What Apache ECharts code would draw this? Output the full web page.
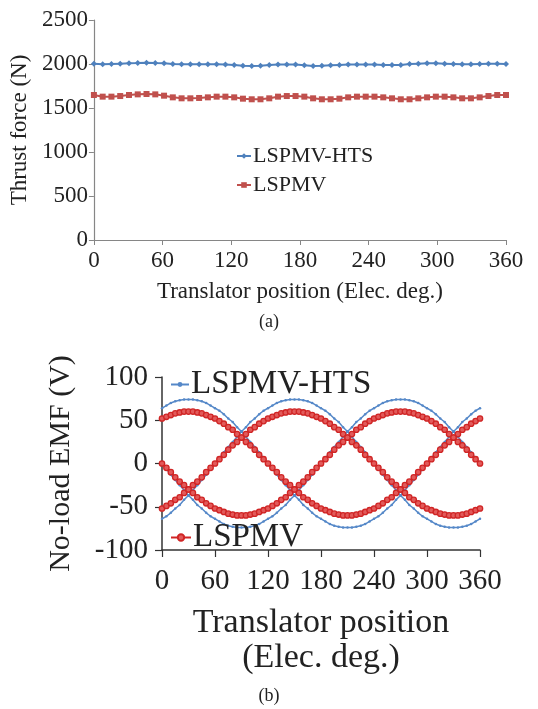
<!DOCTYPE html>
<html><head><meta charset="utf-8">
<script src="https://cdn.jsdelivr.net/npm/echarts@6/dist/echarts.min.js"></script>
<style>html,body{margin:0;padding:0;background:#fff}#c{width:538px;height:709px}</style>
</head><body><div id="c"></div>
<script>
const FONT = 'Liberation Serif';

// ---------- (a) Thrust force ----------
const thrustPos = [0,7.66,15.32,22.98,30.64,38.3,45.96,53.62,61.28,68.94,76.6,84.26,91.91,99.57,107.23,114.89,122.55,130.21,137.87,145.53,153.19,160.85,168.51,176.17,183.83,191.49,199.15,206.81,214.47,222.13,229.79,237.45,245.11,252.77,260.43,268.09,275.74,283.4,291.06,298.72,306.38,314.04,321.7,329.36,337.02,344.68,352.34,360];
const thrustHTS = [2004,1996,2000,2004,2008,2011,2015,2011,2008,2000,1996,1996,1996,1996,1996,1993,1989,1981,1978,1981,1989,1993,1993,1993,1985,1978,1981,1985,1989,1993,1993,1993,1993,1989,1989,1989,2000,2004,2008,2008,2004,2000,1996,1996,2000,2004,2004,2000];
const thrustLSPMV = [1648,1629,1629,1636,1648,1655,1659,1655,1640,1621,1610,1610,1614,1621,1629,1629,1621,1606,1599,1599,1610,1629,1636,1636,1629,1610,1599,1599,1606,1621,1629,1629,1629,1621,1610,1599,1599,1610,1621,1629,1629,1621,1610,1610,1621,1636,1648,1648];

// ---------- (b) No-load EMF ----------
const emfPos = [0,5,10,15,20,25,30,35,40,45,50,55,60,65,70,75,80,85,90,95,100,105,110,115,120,125,130,135,140,145,150,155,160,165,170,175,180,185,190,195,200,205,210,215,220,225,230,235,240,245,250,255,260,265,270,275,280,285,290,295,300,305,310,315,320,325,330,335,340,345,350,355,360];
const htsA = [64,67,70,72,73,74,74,74,73,72,70,67,64,61,57,52,48,42,37,31,25,19,13,6,0,-6,-13,-19,-25,-31,-37,-42,-48,-52,-57,-61,-64,-67,-70,-72,-73,-74,-74,-74,-73,-72,-70,-67,-64,-61,-57,-52,-48,-42,-37,-31,-25,-19,-13,-6,0,6,13,19,25,31,37,42,48,52,57,61,64];
const htsB = [-64,-61,-57,-52,-48,-42,-37,-31,-25,-19,-13,-6,0,6,13,19,25,31,37,42,48,52,57,61,64,67,70,72,73,74,74,74,73,72,70,67,64,61,57,52,48,42,37,31,25,19,13,6,0,-6,-13,-19,-25,-31,-37,-42,-48,-52,-57,-61,-64,-67,-70,-72,-73,-74,-74,-74,-73,-72,-70,-67,-64];
const htsC = [0,-6,-13,-19,-25,-31,-37,-42,-48,-52,-57,-61,-64,-67,-70,-72,-73,-74,-74,-74,-73,-72,-70,-67,-64,-61,-57,-52,-48,-42,-37,-31,-25,-19,-13,-6,0,6,13,19,25,31,37,42,48,52,57,61,64,67,70,72,73,74,74,74,73,72,70,67,64,61,57,52,48,42,37,31,25,19,13,6,0];
const lspA = [52,54,56,58,59,60,60,60,59,58,56,54,52,49,46,42,39,34,30,25,21,16,10,5,0,-5,-10,-16,-21,-25,-30,-34,-39,-42,-46,-49,-52,-54,-56,-58,-59,-60,-60,-60,-59,-58,-56,-54,-52,-49,-46,-42,-39,-34,-30,-25,-21,-16,-10,-5,0,5,10,16,21,25,30,34,39,42,46,49,52];
const lspB = [-52,-49,-46,-42,-39,-34,-30,-25,-21,-16,-10,-5,0,5,10,16,21,25,30,34,39,42,46,49,52,54,56,58,59,60,60,60,59,58,56,54,52,49,46,42,39,34,30,25,21,16,10,5,0,-5,-10,-16,-21,-25,-30,-34,-39,-42,-46,-49,-52,-54,-56,-58,-59,-60,-60,-60,-59,-58,-56,-54,-52];
const lspC = [0,-5,-10,-16,-21,-25,-30,-34,-39,-42,-46,-49,-52,-54,-56,-58,-59,-60,-60,-60,-59,-58,-56,-54,-52,-49,-46,-42,-39,-34,-30,-25,-21,-16,-10,-5,0,5,10,16,21,25,30,34,39,42,46,49,52,54,56,58,59,60,60,60,59,58,56,54,52,49,46,42,39,34,30,25,21,16,10,5,0];

const seriesNames = ['LSPMV-HTS', 'LSPMV'];
const titleA = { x: 'Translator position (Elec. deg.)', y: 'Thrust force (N)', caption: '(a)' };
const titleB = { x: 'Translator position\n(Elec. deg.)', y: 'No-load EMF (V)', caption: '(b)' };

const pair = (xs, ys) => xs.map((x, i) => [x, ys[i]]);
const plain = v => String(v);

const BLUE_A = '#4F81BD', RED_A = '#C0504D';
const BLUE_B = '#5588c8', RED_B = '#d02525';
const TXT = '#222';

const chart = echarts.init(document.getElementById('c'), null, { renderer: 'canvas' });

function emfSeries(name, vals, isHts) {
  return {
    name, type: 'line', xAxisIndex: 1, yAxisIndex: 1,
    data: pair(emfPos, vals),
    symbol: 'circle',
    symbolSize: isHts ? 2.5 : 5.4,
    showSymbol: true,
    lineStyle: { color: isHts ? BLUE_B : RED_B, width: isHts ? 1.5 : 2 },
    itemStyle: isHts ? { color: BLUE_B } : { color: '#e25a5a', borderColor: RED_B, borderWidth: 1.3 },
    z: isHts ? 2 : 3,
    animation: false
  };
}

chart.setOption({
  backgroundColor: '#fff',
  animation: false,
  textStyle: { fontFamily: FONT, color: TXT },
  grid: [
    { left: 92, top: 20, width: 414, height: 220 },
    { left: 162, top: 377, width: 318, height: 173 }
  ],
  xAxis: [
    {
      gridIndex: 0, type: 'value', min: 0, max: 360, interval: 60,
      name: titleA.x, nameLocation: 'middle', nameGap: 40,
      nameTextStyle: { fontFamily: FONT, fontSize: 23, color: TXT },
      axisLine: { show: true, onZero: false, lineStyle: { color: '#868686', width: 1.2 } },
      axisTick: { show: true, length: 5, lineStyle: { color: '#868686' } },
      axisLabel: { fontFamily: FONT, fontSize: 23, color: TXT, margin: 9, formatter: plain },
      splitLine: { show: false }
    },
    {
      gridIndex: 1, type: 'value', min: 0, max: 360, interval: 60,
      name: titleB.x, nameLocation: 'middle', nameGap: 56,
      nameTextStyle: { fontFamily: FONT, fontSize: 34, color: TXT, lineHeight: 35 },
      axisLine: { show: true, onZero: false, lineStyle: { color: '#333', width: 1.5 } },
      axisTick: { show: true, length: 7, lineStyle: { color: '#333', width: 1.2 } },
      axisLabel: { fontFamily: FONT, fontSize: 29, color: TXT, margin: 17, formatter: plain },
      splitLine: { show: false }
    }
  ],
  yAxis: [
    {
      gridIndex: 0, type: 'value', min: 0, max: 2500, interval: 500,
      name: titleA.y, nameLocation: 'middle', nameGap: 56,
      nameTextStyle: { fontFamily: FONT, fontSize: 23, color: TXT },
      axisLine: { show: true, onZero: false, lineStyle: { color: '#868686', width: 1.2 } },
      axisTick: { show: true, length: 5, lineStyle: { color: '#868686' } },
      axisLabel: { fontFamily: FONT, fontSize: 23, color: TXT, margin: 6, formatter: plain },
      splitLine: { show: false }
    },
    {
      gridIndex: 1, type: 'value', min: -100, max: 100, interval: 50,
      name: titleB.y, nameLocation: 'middle', nameGap: 86,
      nameTextStyle: { fontFamily: FONT, fontSize: 30, color: TXT },
      axisLine: { show: true, onZero: false, lineStyle: { color: '#333', width: 1.5 } },
      axisTick: { show: true, length: 7, lineStyle: { color: '#333', width: 1.2 } },
      axisLabel: { fontFamily: FONT, fontSize: 29, color: TXT, margin: 14, formatter: plain },
      splitLine: { show: false }
    }
  ],
  legend: [
    {
      data: seriesNames, orient: 'vertical', left: 236, top: 145, itemGap: 7,
      itemWidth: 14, itemHeight: 7, padding: 0,
      textStyle: { fontFamily: FONT, fontSize: 22, color: TXT, padding: [0, 0, 0, -3] }
    },
    {
      data: [seriesNames[0] + '\u200b'], left: 170, top: 368, padding: 0,
      itemWidth: 18, itemHeight: 6,
      textStyle: { fontFamily: FONT, fontSize: 33, color: TXT, padding: [0, 0, 0, -3] }
    },
    {
      data: [seriesNames[1] + ' '], left: 170, top: 521, padding: 0,
      itemWidth: 20, itemHeight: 8,
      textStyle: { fontFamily: FONT, fontSize: 33, color: TXT, padding: [0, 0, 0, -3] }
    }
  ],
  graphic: [
    { type: 'text', left: 'center', top: 313, style: { text: titleA.caption, font: '18px "Liberation Serif"', fill: TXT } },
    { type: 'text', left: 'center', top: 687, style: { text: titleB.caption, font: '18px "Liberation Serif"', fill: TXT } }
  ],
  series: [
    {
      name: seriesNames[0], type: 'line', xAxisIndex: 0, yAxisIndex: 0,
      data: pair(thrustPos, thrustHTS), symbol: 'diamond', symbolSize: 6,
      lineStyle: { color: BLUE_A, width: 2 }, itemStyle: { color: BLUE_A }
    },
    {
      name: seriesNames[1], type: 'line', xAxisIndex: 0, yAxisIndex: 0,
      data: pair(thrustPos, thrustLSPMV), symbol: 'rect', symbolSize: 6,
      lineStyle: { color: RED_A, width: 2 }, itemStyle: { color: RED_A }
    },
    emfSeries(seriesNames[0] + '\u200b', htsA, true),
    emfSeries(seriesNames[0] + '\u200b', htsB, true),
    emfSeries(seriesNames[0] + '\u200b', htsC, true),
    emfSeries(seriesNames[1] + ' ', lspA, false),
    emfSeries(seriesNames[1] + ' ', lspB, false),
    emfSeries(seriesNames[1] + ' ', lspC, false)
  ]
});
</script></body></html>
